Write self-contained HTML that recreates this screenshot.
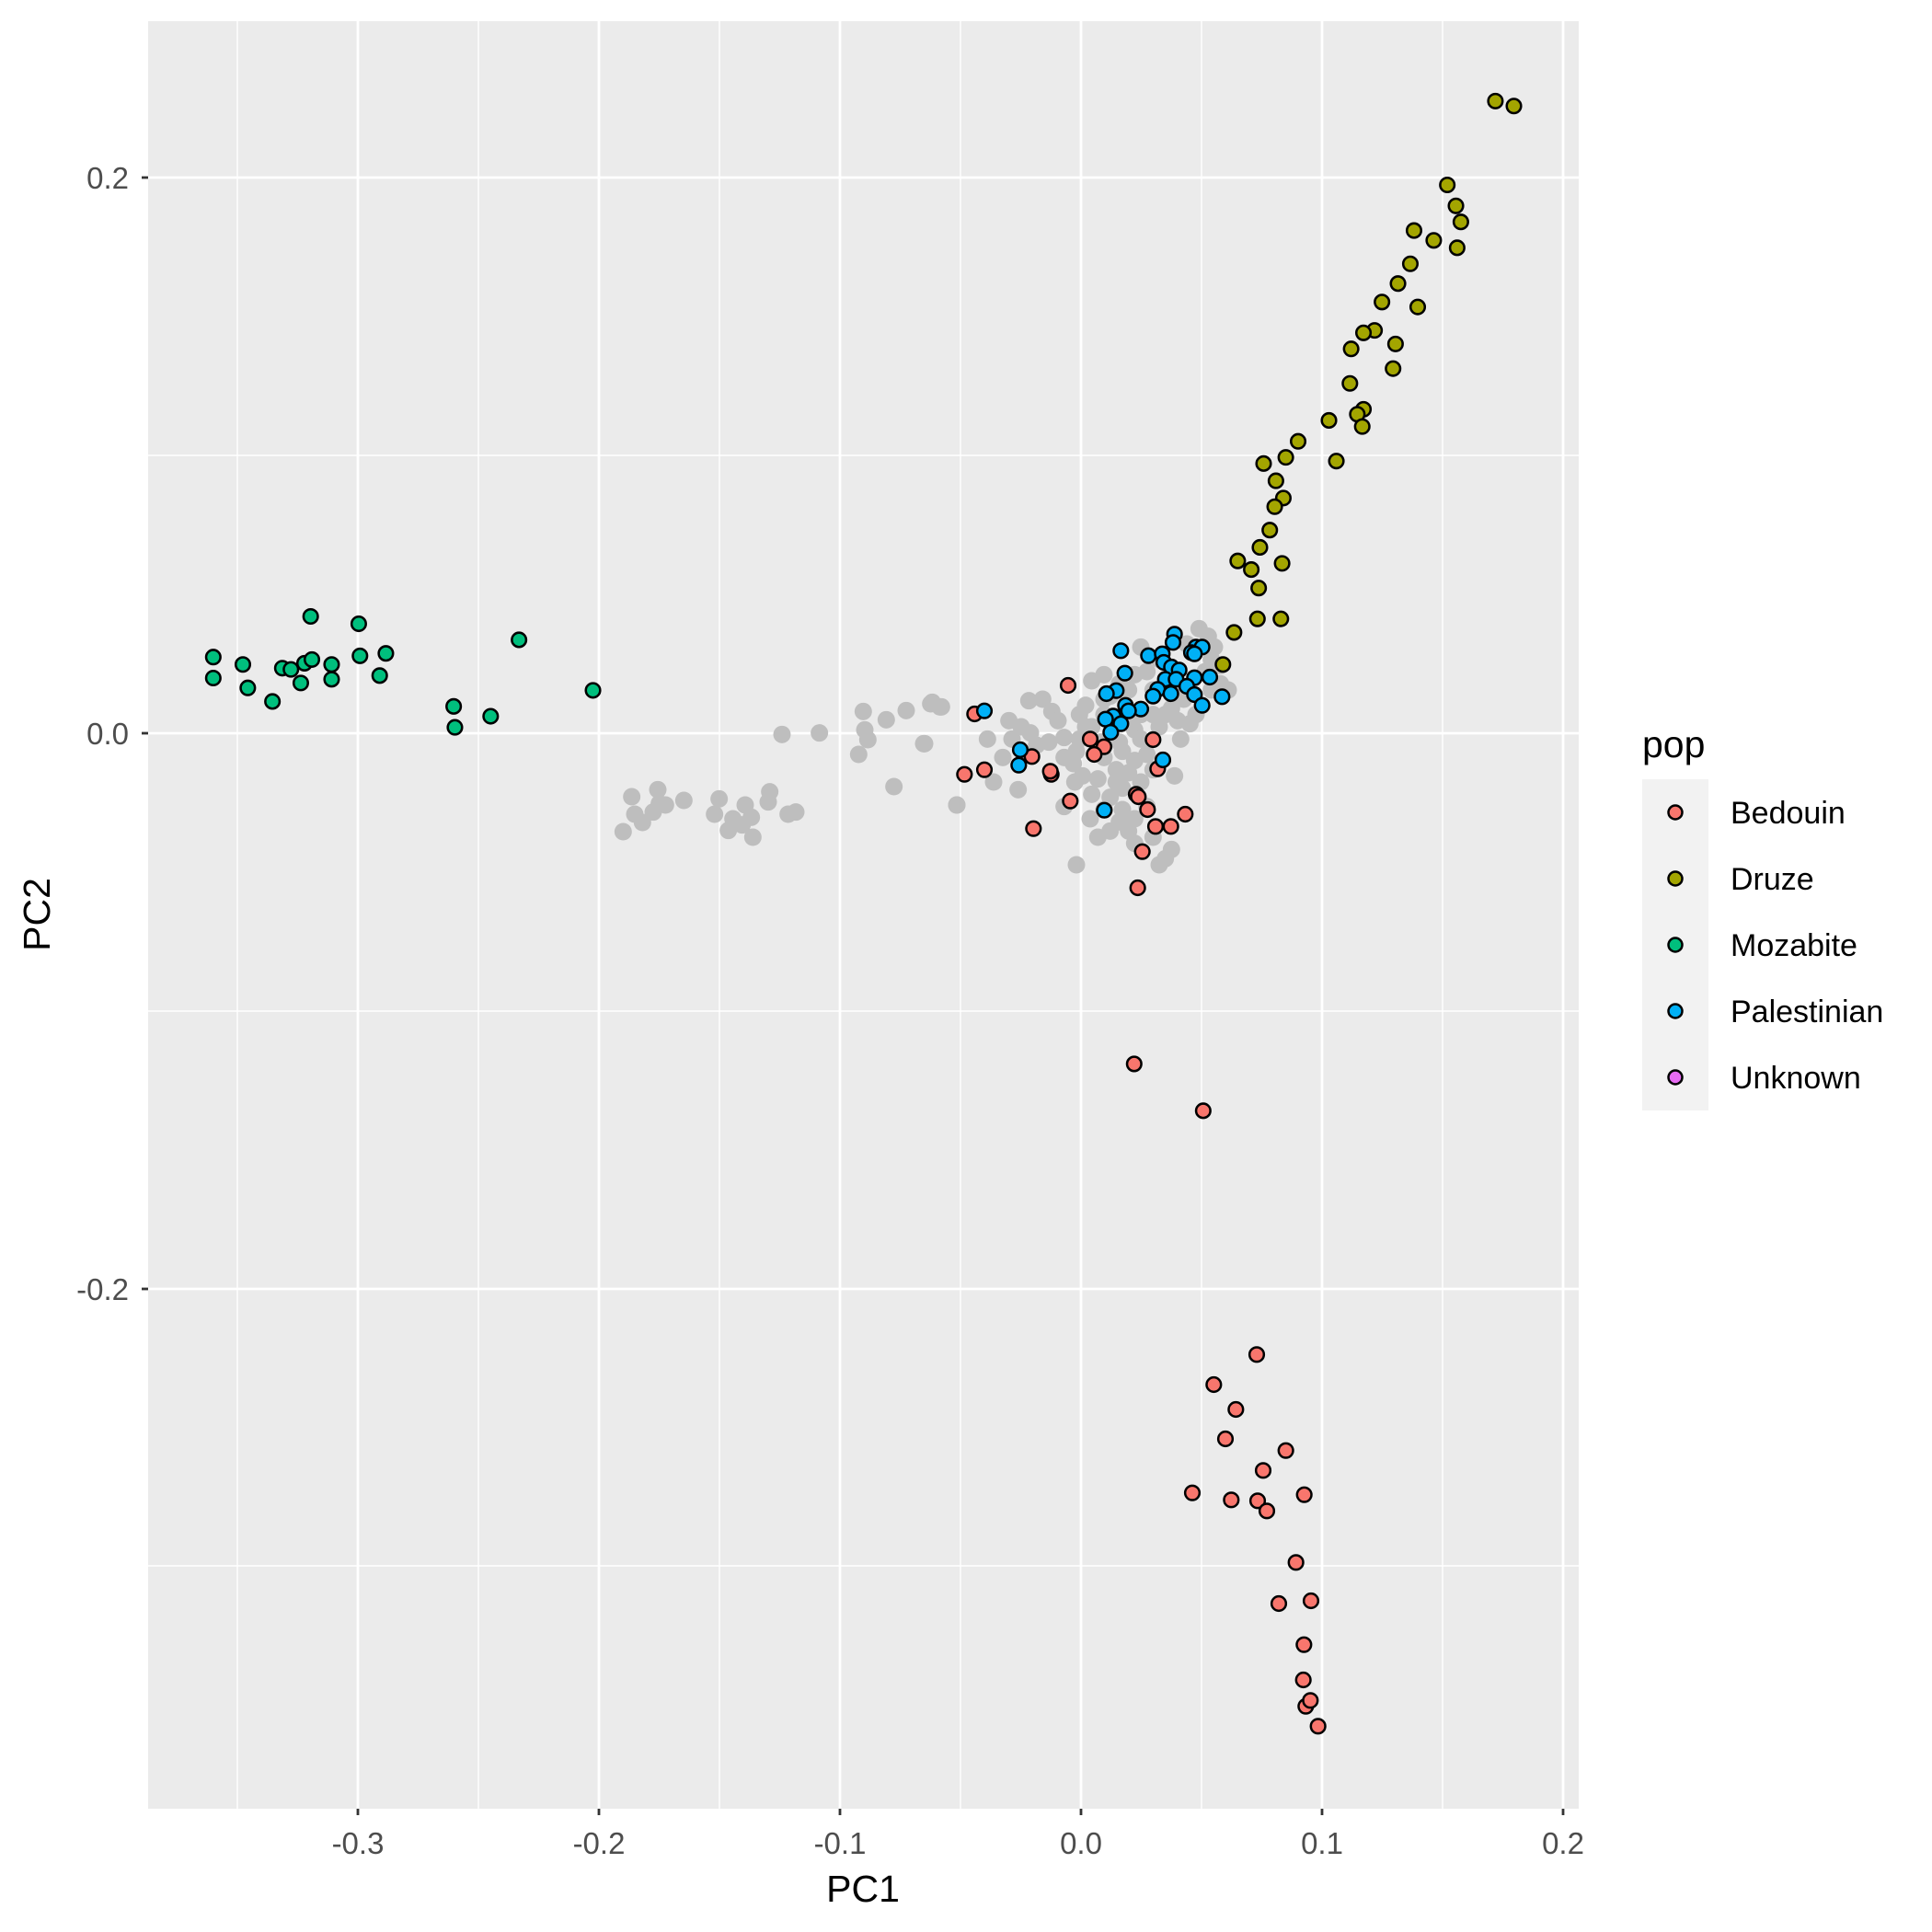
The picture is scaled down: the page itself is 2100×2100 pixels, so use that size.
<!DOCTYPE html>
<html><head><meta charset="utf-8"><style>html,body{margin:0;padding:0;background:#fff}svg{display:block}</style></head><body>
<svg width="2100" height="2100" viewBox="0 0 2100 2100" xmlns="http://www.w3.org/2000/svg" font-family="Liberation Sans, Arial, sans-serif">
<rect x="0" y="0" width="2100" height="2100" fill="#fff"/>
<rect x="161" y="23" width="1555" height="1943" fill="#EBEBEB"/>
<g stroke="#fff" stroke-width="1.4">
<line x1="258" y1="23" x2="258" y2="1966"/><line x1="520" y1="23" x2="520" y2="1966"/><line x1="782" y1="23" x2="782" y2="1966"/><line x1="1044" y1="23" x2="1044" y2="1966"/><line x1="1306" y1="23" x2="1306" y2="1966"/><line x1="1568" y1="23" x2="1568" y2="1966"/>
<line x1="161" y1="495" x2="1716" y2="495"/><line x1="161" y1="1099" x2="1716" y2="1099"/><line x1="161" y1="1702" x2="1716" y2="1702"/>
</g>
<g stroke="#fff" stroke-width="2.8">
<line x1="389" y1="23" x2="389" y2="1966"/><line x1="651" y1="23" x2="651" y2="1966"/><line x1="913" y1="23" x2="913" y2="1966"/><line x1="1175" y1="23" x2="1175" y2="1966"/><line x1="1437" y1="23" x2="1437" y2="1966"/><line x1="1699" y1="23" x2="1699" y2="1966"/>
<line x1="161" y1="193" x2="1716" y2="193"/><line x1="161" y1="797" x2="1716" y2="797"/><line x1="161" y1="1401" x2="1716" y2="1401"/>
</g>
<g stroke="#333" stroke-width="2.8">
<line x1="389" y1="1966" x2="389" y2="1973"/><line x1="651" y1="1966" x2="651" y2="1973"/><line x1="913" y1="1966" x2="913" y2="1973"/><line x1="1175" y1="1966" x2="1175" y2="1973"/><line x1="1437" y1="1966" x2="1437" y2="1973"/><line x1="1699" y1="1966" x2="1699" y2="1973"/>
<line x1="154" y1="193" x2="161" y2="193"/><line x1="154" y1="797" x2="161" y2="797"/><line x1="154" y1="1401" x2="161" y2="1401"/>
</g>
<g fill="#4D4D4D" font-size="33" text-anchor="middle">
<text x="389" y="2015">-0.3</text><text x="651" y="2015">-0.2</text><text x="913" y="2015">-0.1</text><text x="1175" y="2015">0.0</text><text x="1437" y="2015">0.1</text><text x="1699" y="2015">0.2</text>
</g>
<g fill="#4D4D4D" font-size="33" text-anchor="end">
<text x="140" y="205">0.2</text><text x="140" y="809">0.0</text><text x="140" y="1413">-0.2</text>
</g>
<text x="938" y="2067" font-size="41" text-anchor="middle" fill="#000">PC1</text>
<text transform="translate(54,994) rotate(-90)" font-size="41" text-anchor="middle" fill="#000">PC2</text>

<g fill="#BEBEBE" transform="translate(650,740) scale(0.33333)">
<circle cx="110" cy="378" r="28.5"/><circle cx="195" cy="355" r="28.5"/><circle cx="220" cy="405" r="28.5"/><circle cx="280" cy="390" r="28.5"/><circle cx="120" cy="435" r="28.5"/><circle cx="145" cy="462" r="28.5"/><circle cx="82" cy="492" r="28.5"/><circle cx="180" cy="428" r="28.5"/><circle cx="200" cy="400" r="28.5"/><circle cx="395" cy="385" r="28.5"/><circle cx="380" cy="435" r="28.5"/><circle cx="425" cy="488" r="28.5"/><circle cx="480" cy="405" r="28.5"/><circle cx="500" cy="445" r="28.5"/><circle cx="470" cy="470" r="28.5"/><circle cx="440" cy="450" r="28.5"/><circle cx="505" cy="510" r="28.5"/><circle cx="555" cy="395" r="28.5"/><circle cx="560" cy="362" r="28.5"/><circle cx="620" cy="435" r="28.5"/><circle cx="645" cy="428" r="28.5"/><circle cx="600" cy="175" r="28.5"/><circle cx="722" cy="170" r="28.5"/><circle cx="865" cy="100" r="28.5"/><circle cx="850" cy="240" r="28.5"/><circle cx="870" cy="160" r="28.5"/><circle cx="880" cy="192" r="28.5"/><circle cx="940" cy="127" r="28.5"/><circle cx="1005" cy="97" r="28.5"/><circle cx="1085" cy="75" r="28.5"/><circle cx="1115" cy="85" r="28.5"/><circle cx="1062" cy="205" r="28.5"/><circle cx="965" cy="345" r="28.5"/><circle cx="1170" cy="405" r="28.5"/>
</g>
<g fill="#BEBEBE" transform="translate(1000,650) scale(0.33333)">
<circle cx="40" cy="340" r="28.5"/><circle cx="70" cy="355" r="28.5"/><circle cx="15" cy="475" r="28.5"/><circle cx="220" cy="460" r="28.5"/><circle cx="290" cy="400" r="28.5"/><circle cx="330" cy="420" r="28.5"/><circle cx="360" cy="440" r="28.5"/><circle cx="270" cy="520" r="28.5"/><circle cx="240" cy="600" r="28.5"/><circle cx="320" cy="625" r="28.5"/><circle cx="120" cy="675" r="28.5"/><circle cx="355" cy="335" r="28.5"/><circle cx="400" cy="330" r="28.5"/><circle cx="430" cy="370" r="28.5"/><circle cx="420" cy="470" r="28.5"/><circle cx="470" cy="455" r="28.5"/><circle cx="500" cy="540" r="28.5"/><circle cx="510" cy="500" r="28.5"/><circle cx="540" cy="350" r="28.5"/><circle cx="560" cy="270" r="28.5"/><circle cx="600" cy="250" r="28.5"/><circle cx="540" cy="420" r="28.5"/><circle cx="510" cy="870" r="28.5"/><circle cx="470" cy="680" r="28.5"/><circle cx="555" cy="720" r="28.5"/><circle cx="505" cy="600" r="28.5"/><circle cx="580" cy="590" r="28.5"/><circle cx="620" cy="650" r="28.5"/><circle cx="660" cy="620" r="28.5"/><circle cx="680" cy="570" r="28.5"/><circle cx="700" cy="530" r="28.5"/><circle cx="740" cy="510" r="28.5"/><circle cx="620" cy="760" r="28.5"/><circle cx="650" cy="730" r="28.5"/><circle cx="700" cy="720" r="28.5"/><circle cx="700" cy="800" r="28.5"/><circle cx="800" cy="850" r="28.5"/><circle cx="820" cy="820" r="28.5"/><circle cx="830" cy="580" r="28.5"/><circle cx="850" cy="460" r="28.5"/><circle cx="880" cy="410" r="28.5"/><circle cx="720" cy="160" r="28.5"/><circle cx="910" cy="100" r="28.5"/><circle cx="940" cy="125" r="28.5"/><circle cx="960" cy="160" r="28.5"/><circle cx="950" cy="200" r="28.5"/><circle cx="930" cy="240" r="28.5"/><circle cx="980" cy="280" r="28.5"/><circle cx="1005" cy="300" r="28.5"/><circle cx="860" cy="330" r="28.5"/><circle cx="780" cy="420" r="28.5"/><circle cx="700" cy="430" r="28.5"/><circle cx="650" cy="470" r="28.5"/><circle cx="620" cy="320" r="28.5"/><circle cx="680" cy="300" r="28.5"/><circle cx="740" cy="240" r="28.5"/><circle cx="760" cy="300" r="28.5"/><circle cx="600" cy="330" r="28.5"/><circle cx="720" cy="380" r="28.5"/><circle cx="800" cy="380" r="28.5"/><circle cx="840" cy="400" r="28.5"/><circle cx="640" cy="410" r="28.5"/><circle cx="590" cy="470" r="28.5"/><circle cx="560" cy="420" r="28.5"/><circle cx="780" cy="200" r="28.5"/><circle cx="870" cy="150" r="28.5"/><circle cx="650" cy="280" r="28.5"/><circle cx="820" cy="300" r="28.5"/>
<circle cx="300" cy="460" r="28.5"/><circle cx="380" cy="480" r="28.5"/><circle cx="450" cy="400" r="28.5"/><circle cx="520" cy="460" r="28.5"/><circle cx="600" cy="520" r="28.5"/><circle cx="640" cy="560" r="28.5"/><circle cx="560" cy="640" r="28.5"/><circle cx="600" cy="690" r="28.5"/><circle cx="660" cy="690" r="28.5"/><circle cx="640" cy="600" r="28.5"/><circle cx="720" cy="460" r="28.5"/><circle cx="760" cy="380" r="28.5"/><circle cx="820" cy="360" r="28.5"/><circle cx="900" cy="380" r="28.5"/><circle cx="680" cy="400" r="28.5"/><circle cx="600" cy="380" r="28.5"/><circle cx="520" cy="380" r="28.5"/><circle cx="470" cy="520" r="28.5"/><circle cx="530" cy="580" r="28.5"/><circle cx="660" cy="500" r="28.5"/><circle cx="720" cy="600" r="28.5"/><circle cx="760" cy="560" r="28.5"/><circle cx="740" cy="680" r="28.5"/><circle cx="680" cy="760" r="28.5"/><circle cx="580" cy="780" r="28.5"/><circle cx="760" cy="780" r="28.5"/><circle cx="780" cy="870" r="28.5"/><circle cx="980" cy="220" r="28.5"/><circle cx="950" cy="300" r="28.5"/><circle cx="700" cy="250" r="28.5"/>
</g>

<g transform="scale(1.34)" stroke="#000" stroke-width="1.9">
<g fill="#00BF7D">
<circle cx="173" cy="533" r="5.8"/><circle cx="173" cy="550" r="5.8"/><circle cx="197" cy="539" r="5.8"/><circle cx="201" cy="558" r="5.8"/><circle cx="221" cy="569" r="5.8"/><circle cx="229" cy="542" r="5.8"/><circle cx="236" cy="543" r="5.8"/><circle cx="244" cy="554" r="5.8"/><circle cx="247" cy="538" r="5.8"/><circle cx="253" cy="535" r="5.8"/><circle cx="252" cy="500" r="5.8"/><circle cx="269" cy="539" r="5.8"/><circle cx="269" cy="551" r="5.8"/><circle cx="291" cy="506" r="5.8"/><circle cx="292" cy="532" r="5.8"/><circle cx="308" cy="548" r="5.8"/><circle cx="313" cy="530" r="5.8"/><circle cx="368" cy="573" r="5.8"/><circle cx="369" cy="590" r="5.8"/><circle cx="398" cy="581" r="5.8"/><circle cx="421" cy="519" r="5.8"/><circle cx="481" cy="560" r="5.8"/>
</g>
<g fill="#A3A500">
<circle cx="1213" cy="82" r="5.8"/><circle cx="1228" cy="86" r="5.8"/><circle cx="1174" cy="150" r="5.8"/><circle cx="1181" cy="167" r="5.8"/><circle cx="1185" cy="180" r="5.8"/><circle cx="1182" cy="201" r="5.8"/><circle cx="1147" cy="187" r="5.8"/><circle cx="1163" cy="195" r="5.8"/><circle cx="1144" cy="214" r="5.8"/><circle cx="1134" cy="230" r="5.8"/><circle cx="1121" cy="245" r="5.8"/><circle cx="1150" cy="249" r="5.8"/><circle cx="1115" cy="268" r="5.8"/><circle cx="1106" cy="270" r="5.8"/><circle cx="1132" cy="279" r="5.8"/><circle cx="1096" cy="283" r="5.8"/><circle cx="1130" cy="299" r="5.8"/><circle cx="1095" cy="311" r="5.8"/><circle cx="1106" cy="332" r="5.8"/><circle cx="1101" cy="336" r="5.8"/><circle cx="1105" cy="346" r="5.8"/><circle cx="1078" cy="341" r="5.8"/><circle cx="1053" cy="358" r="5.8"/><circle cx="1084" cy="374" r="5.8"/><circle cx="1025" cy="376" r="5.8"/><circle cx="1043" cy="371" r="5.8"/><circle cx="1035" cy="390" r="5.8"/><circle cx="1041" cy="404" r="5.8"/><circle cx="1034" cy="411" r="5.8"/><circle cx="1030" cy="430" r="5.8"/><circle cx="1022" cy="444" r="5.8"/><circle cx="1004" cy="455" r="5.8"/><circle cx="1015" cy="462" r="5.8"/><circle cx="1040" cy="457" r="5.8"/><circle cx="1021" cy="477" r="5.8"/><circle cx="1020" cy="502" r="5.8"/><circle cx="1039" cy="502" r="5.8"/><circle cx="1001" cy="513" r="5.8"/><circle cx="992" cy="539" r="5.8"/>
</g>
</g>

<g transform="translate(1000,650) scale(0.33333)" stroke="#000" stroke-width="7.5">
<g fill="#00B0F6">
<circle cx="655" cy="172" r="23.5"/><circle cx="830" cy="118" r="23.5"/><circle cx="825" cy="145" r="23.5"/><circle cx="745" cy="188" r="23.5"/><circle cx="790" cy="182" r="23.5"/><circle cx="795" cy="210" r="23.5"/><circle cx="900" cy="160" r="23.5"/><circle cx="920" cy="160" r="23.5"/><circle cx="885" cy="178" r="23.5"/><circle cx="895" cy="182" r="23.5"/><circle cx="668" cy="245" r="23.5"/><circle cx="820" cy="225" r="23.5"/><circle cx="845" cy="235" r="23.5"/><circle cx="800" cy="265" r="23.5"/><circle cx="835" cy="265" r="23.5"/><circle cx="895" cy="260" r="23.5"/><circle cx="945" cy="258" r="23.5"/><circle cx="870" cy="288" r="23.5"/><circle cx="775" cy="298" r="23.5"/><circle cx="760" cy="320" r="23.5"/><circle cx="818" cy="312" r="23.5"/><circle cx="895" cy="315" r="23.5"/><circle cx="920" cy="350" r="23.5"/><circle cx="985" cy="322" r="23.5"/><circle cx="640" cy="302" r="23.5"/><circle cx="608" cy="312" r="23.5"/><circle cx="670" cy="350" r="23.5"/><circle cx="720" cy="362" r="23.5"/><circle cx="680" cy="368" r="23.5"/><circle cx="630" cy="385" r="23.5"/><circle cx="605" cy="395" r="23.5"/><circle cx="655" cy="410" r="23.5"/><circle cx="622" cy="438" r="23.5"/>
</g>
<g fill="#F8766D">
<circle cx="483" cy="285" r="23.5"/><circle cx="178" cy="378" r="23.5"/><circle cx="555" cy="460" r="23.5"/><circle cx="600" cy="485" r="23.5"/><circle cx="568" cy="510" r="23.5"/><circle cx="760" cy="462" r="23.5"/><circle cx="365" cy="517" r="23.5"/><circle cx="428" cy="575" r="23.5"/><circle cx="425" cy="565" r="23.5"/><circle cx="775" cy="557" r="23.5"/><circle cx="210" cy="560" r="23.5"/><circle cx="145" cy="575" r="23.5"/><circle cx="490" cy="662" r="23.5"/><circle cx="705" cy="640" r="23.5"/><circle cx="712" cy="648" r="23.5"/><circle cx="742" cy="690" r="23.5"/><circle cx="865" cy="705" r="23.5"/><circle cx="768" cy="745" r="23.5"/><circle cx="818" cy="745" r="23.5"/><circle cx="370" cy="752" r="23.5"/><circle cx="725" cy="827" r="23.5"/><circle cx="710" cy="945" r="23.5"/>
</g>
<g fill="#00B0F6">
<circle cx="210" cy="368" r="23.5"/><circle cx="327" cy="495" r="23.5"/><circle cx="322" cy="545" r="23.5"/><circle cx="792" cy="528" r="23.5"/><circle cx="601" cy="692" r="23.5"/>
</g>
</g>

<g transform="translate(1150,1450) scale(0.33333)" stroke="#000" stroke-width="7.5" fill="#F8766D">
<circle cx="648" cy="67" r="23.5"/><circle cx="508" cy="165" r="23.5"/><circle cx="580" cy="246" r="23.5"/><circle cx="546" cy="342" r="23.5"/><circle cx="743" cy="380" r="23.5"/><circle cx="669" cy="445" r="23.5"/><circle cx="438" cy="518" r="23.5"/><circle cx="565" cy="541" r="23.5"/><circle cx="651" cy="544" r="23.5"/><circle cx="681" cy="577" r="23.5"/><circle cx="803" cy="524" r="23.5"/><circle cx="776" cy="745" r="23.5"/><circle cx="720" cy="879" r="23.5"/><circle cx="825" cy="870" r="23.5"/><circle cx="802" cy="1013" r="23.5"/><circle cx="800" cy="1128" r="23.5"/><circle cx="808" cy="1214" r="23.5"/><circle cx="823" cy="1195" r="23.5"/><circle cx="848" cy="1279" r="23.5"/>
</g>
<g transform="scale(1.34)" stroke="#000" stroke-width="1.9" fill="#F8766D">
<circle cx="920" cy="863" r="5.8"/><circle cx="976" cy="901" r="5.8"/>
</g>

<text x="1785" y="823" font-size="41" fill="#000">pop</text>
<rect x="1785" y="847" width="72" height="360" fill="#F2F2F2"/>
<g stroke="#000" stroke-width="2.5">
<circle cx="1821" cy="883" r="7.5" fill="#F8766D"/>
<circle cx="1821" cy="955" r="7.5" fill="#A3A500"/>
<circle cx="1821" cy="1027" r="7.5" fill="#00BF7D"/>
<circle cx="1821" cy="1099" r="7.5" fill="#00B0F6"/>
<circle cx="1821" cy="1171" r="7.5" fill="#E76BF3"/>
</g>
<g font-size="34" fill="#000">
<text x="1881" y="895">Bedouin</text>
<text x="1881" y="967">Druze</text>
<text x="1881" y="1039">Mozabite</text>
<text x="1881" y="1111">Palestinian</text>
<text x="1881" y="1183">Unknown</text>
</g>
</svg>
</body></html>
